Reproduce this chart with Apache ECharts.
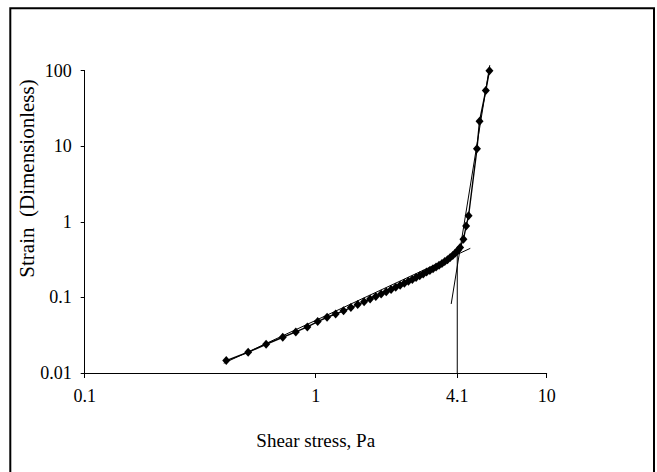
<!DOCTYPE html>
<html><head><meta charset="utf-8">
<script src="https://cdn.jsdelivr.net/npm/echarts@6/dist/echarts.min.js"></script>
<style>html,body{margin:0;padding:0;background:#fff}#c{width:657px;height:472px}</style>
</head><body><div id="c"></div>
<script>
// Measured data: shear stress (Pa) vs strain (dimensionless)
const stress = [0.41,0.51,0.61,0.72,0.82,0.92,1.02,1.12,1.22,1.32,1.42,1.52,1.62,1.72,1.82,1.92,2.02,2.12,2.22,2.32,2.42,2.52,2.62,2.72,2.82,2.92,3.02,3.12,3.22,3.32,3.42,3.52,3.62,3.72,3.82,3.92,4.02,4.12,4.22,4.36,4.48,4.59,4.99,5.12,5.45,5.65];
const strain = [0.0146,0.0188,0.0240,0.0297,0.0349,0.0406,0.0478,0.0546,0.0603,0.0665,0.0733,0.0803,0.0875,0.0950,0.1028,0.1105,0.1186,0.1268,0.1356,0.1445,0.1536,0.1632,0.1729,0.1832,0.1935,0.2044,0.2159,0.2274,0.2394,0.2521,0.2663,0.2812,0.2971,0.3148,0.3356,0.3587,0.3859,0.4177,0.4562,0.586,0.877,1.2,9.2,21.4,54.4,98.9];
// Tangent (fit) lines
const fitLowX = [0.40, 4.67];
const fitLowY = [0.01347, 0.445];
const fitHighX = [3.86, 5.67];
const fitHighY = [0.0818, 117.5];
// Yield stress marker line
const yieldX = [4.1, 4.1];
const yieldY = [0.388, 0.01];
// Tick labels
const xTickValues = [0.1, 1, 4.1, 10];
const yTickValues = [0.01, 0.1, 1, 10, 100];

const pairs = (xs, ys) => xs.map((x, i) => [x, ys[i]]);
const FONT = 'Liberation Serif';

const chart = echarts.init(document.getElementById('c'), null, {renderer: 'svg'});
chart.setOption({
  animation: false,
  backgroundColor: '#fff',
  grid: {left: 84.7, top: 70.5, right: 110.3, bottom: 99, containLabel: false},
  xAxis: {
    type: 'log', logBase: 10, min: 0.1, max: 10,
    name: 'Shear stress, Pa', nameLocation: 'middle', nameGap: 58,
    nameTextStyle: {fontFamily: FONT, fontSize: 19, color: '#000'},
    axisLine: {lineStyle: {color: '#000', width: 1}},
    axisTick: {show: true, length: 5, lineStyle: {color: '#000'}, customValues: xTickValues},
    axisLabel: {fontFamily: FONT, fontSize: 18, color: '#000', margin: 14, customValues: xTickValues,
      formatter: v => String(+(+v).toPrecision(3))},
    splitLine: {show: false}, minorTick: {show: false}
  },
  yAxis: {
    type: 'log', logBase: 10, min: 0.01, max: 100,
    axisLine: {show: true, lineStyle: {color: '#000', width: 1}},
    axisTick: {show: true, length: 4, lineStyle: {color: '#000'}, customValues: yTickValues},
    axisLabel: {fontFamily: FONT, fontSize: 18, color: '#000', margin: 13, customValues: yTickValues,
      formatter: v => String(+(+v).toPrecision(3))},
    splitLine: {show: false}, minorTick: {show: false}
  },
  graphic: [
    {type: 'rect', shape: {x: 10.3, y: 8.3, width: 643.7, height: 480}, style: {fill: 'none', stroke: '#000', lineWidth: 2}, silent: true},
    {type: 'text', x: 27, y: 178.5, rotation: Math.PI / 2,
      style: {text: 'Strain  (Dimensionless)', fontFamily: FONT, fontSize: 21, fill: '#000', align: 'center', verticalAlign: 'middle'}}
  ],
  series: [
    {type: 'line', data: pairs(fitLowX, fitLowY), showSymbol: false, symbol: 'none',
      lineStyle: {color: '#000', width: 1}, silent: true, z: 3},
    {type: 'line', data: pairs(fitHighX, fitHighY), showSymbol: false, symbol: 'none', clip: false,
      lineStyle: {color: '#000', width: 1}, silent: true, z: 3},
    {type: 'line', data: pairs(yieldX, yieldY), showSymbol: false, symbol: 'none',
      lineStyle: {color: '#000', width: 1}, silent: true, z: 3},
    {type: 'line', data: pairs(stress, strain), symbol: 'diamond', symbolSize: [8, 9], clip: false,
      itemStyle: {color: '#000'}, lineStyle: {color: '#000', width: 1.4}, z: 4}
  ]
});
</script></body></html>
